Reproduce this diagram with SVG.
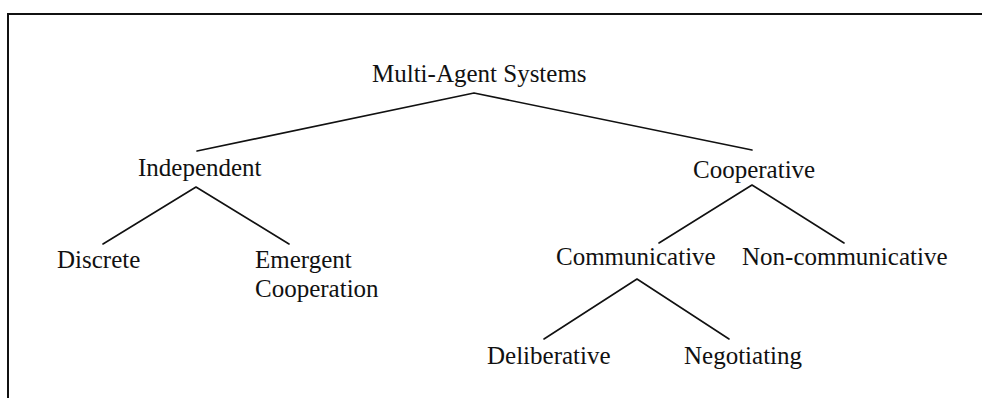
<svg xmlns="http://www.w3.org/2000/svg" width="982" height="398" viewBox="0 0 982 398">
<style>
.t{font-family:"Liberation Serif","Times New Roman",serif;font-size:25px;fill:#111}
.c{stroke:#111;stroke-width:1.6;fill:none;stroke-linecap:round;stroke-linejoin:round}
.b{stroke:#111;stroke-width:2;fill:none}
</style>
<rect width="982" height="398" fill="#fff"/>
<path class="b" d="M8,398 V14 H982"/>
<g id="connectors">
<polyline class="c" points="197,151 474,93 752,150"/>
<polyline class="c" points="103,244 196,187 289,244"/>
<polyline class="c" points="659,243 752,185 844,243"/>
<polyline class="c" points="544,339 637,279 729,339"/>
</g>
<g id="root"><text class="t" x="372" y="82">Multi-Agent Systems</text></g>
<g id="independent"><text class="t" x="138" y="176">Independent</text></g>
<g id="cooperative"><text class="t" x="693" y="178">Cooperative</text></g>
<g id="discrete"><text class="t" x="57" y="268">Discrete</text></g>
<g id="emergent"><text class="t" x="255" y="268">Emergent</text><text class="t" x="255" y="297">Cooperation</text></g>
<g id="communicative"><text class="t" x="556" y="265">Communicative</text></g>
<g id="noncommunicative"><text class="t" x="742" y="265">Non-communicative</text></g>
<g id="deliberative"><text class="t" x="487" y="364">Deliberative</text></g>
<g id="negotiating"><text class="t" x="684" y="364">Negotiating</text></g>
</svg>
